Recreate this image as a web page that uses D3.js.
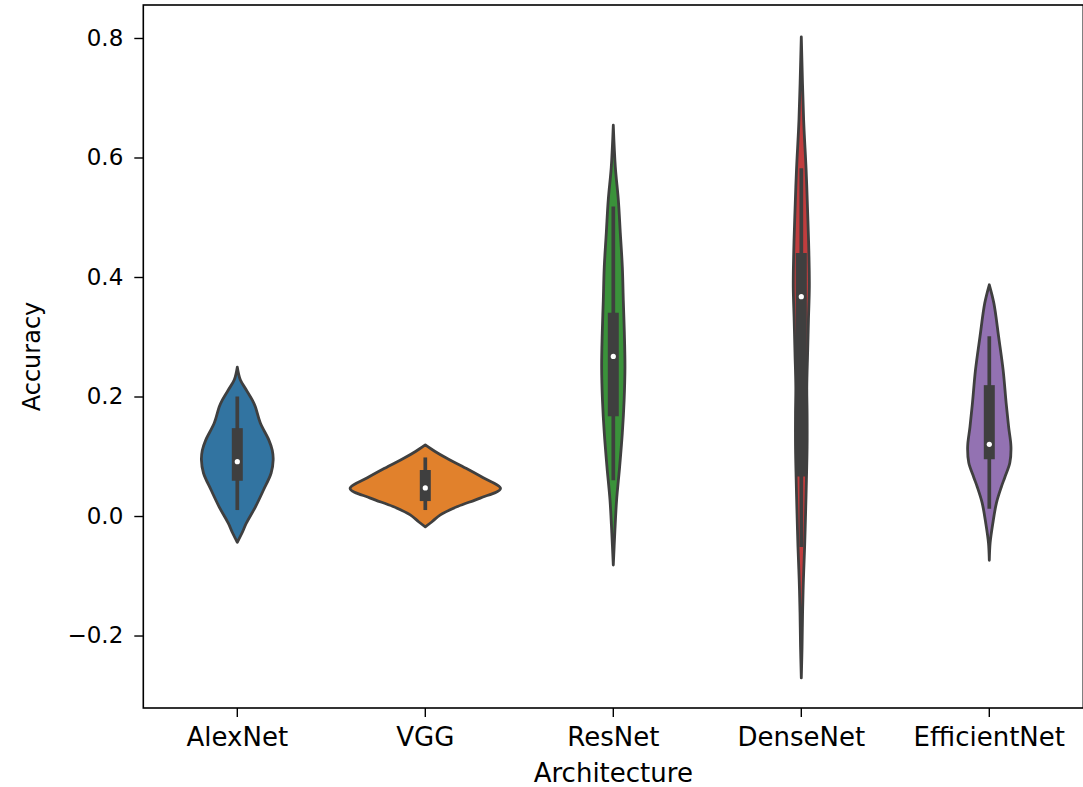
<!DOCTYPE html>
<html>
<head>
<meta charset="utf-8">
<script src="https://cdn.jsdelivr.net/npm/d3@7"></script>
<style>
  html, body { margin: 0; padding: 0; background: #fff; }
  svg { display: block; }
  text { font-family: "DejaVu Sans", sans-serif; fill: #000; }
</style>
</head>
<body>
<svg id="chart" width="1083" height="787"></svg>
<script>
// ---------- data ----------
const categories = ["AlexNet", "VGG", "ResNet", "DenseNet", "EfficientNet"];
const palette = ["#3274a1", "#e1812c", "#3a923a", "#c03d3e", "#9372b2"];
const yTickValues = [-0.2, 0.0, 0.2, 0.4, 0.6, 0.8];

// density profiles: [accuracy, relative density]
const densityAlexNet = [
  [0.249, 0], [0.228, 0.04], [0.211, 0.12], [0.194, 0.20], [0.183, 0.24],
  [0.156, 0.305], [0.127, 0.42], [0.110, 0.465], [0.094, 0.477], [0.072, 0.45],
  [0.044, 0.35], [0.015, 0.24], [-0.012, 0.12], [-0.028, 0.064], [-0.044, 0]
];
const densityVGG = [
  [0.119, 0], [0.108, 0.13], [0.097, 0.28], [0.080, 0.54], [0.064, 0.77],
  [0.046, 1.0], [0.030, 0.73], [0.016, 0.43], [0.002, 0.20], [-0.010, 0.085], [-0.018, 0]
];
const densityResNet = [
  [0.654, 0], [0.584, 0.027], [0.529, 0.067], [0.474, 0.093], [0.417, 0.12],
  [0.361, 0.133], [0.306, 0.147], [0.249, 0.155], [0.194, 0.144], [0.139, 0.12],
  [0.082, 0.084], [0.027, 0.044], [-0.028, 0.02], [-0.082, 0]
];
const densityDenseNet = [
  [0.802, 0], [0.663, 0.031], [0.579, 0.064], [0.495, 0.088], [0.440, 0.101],
  [0.384, 0.107], [0.328, 0.095], [0.273, 0.084], [0.216, 0.073], [0.172, 0.077],
  [0.116, 0.077], [0.060, 0.068], [0.005, 0.057], [-0.052, 0.044], [-0.107, 0.028],
  [-0.162, 0.017], [-0.219, 0.01], [-0.271, 0]
];
const densityEfficientNet = [
  [0.387, 0], [0.356, 0.061], [0.300, 0.124], [0.244, 0.184], [0.189, 0.224],
  [0.149, 0.257], [0.116, 0.288], [0.089, 0.273], [0.065, 0.207], [0.049, 0.161],
  [0.022, 0.095], [-0.012, 0.047], [-0.045, 0.011], [-0.074, 0]
];
const densities = [densityAlexNet, densityVGG, densityResNet, densityDenseNet, densityEfficientNet];

// inner box statistics
const q1Values      = [0.059, 0.025, 0.167, 0.066, 0.095];
const medianValues  = [0.091, 0.047, 0.267, 0.367, 0.120];
const q3Values      = [0.147, 0.077, 0.340, 0.440, 0.219];
const whiskerLow    = [0.010, 0.010, 0.060, -0.052, 0.012];
const whiskerHigh   = [0.200, 0.098, 0.518, 0.582, 0.301];

// ---------- layout ----------
const svg = d3.select("#chart");
const plotLeft = 143.3, plotRight = 1083.3, plotTop = 5, plotBottom = 708;
const gray = "#3f3f3f";

const x = d3.scaleBand().domain(categories).range([plotLeft, plotRight]).padding(0);
const y = d3.scaleLinear().domain([-0.3213, 0.8552]).range([plotBottom, plotTop]);
const w = d3.scaleLinear().domain([0, 1]).range([0, 0.4 * x.bandwidth()]);
const cx = c => x(c) + x.bandwidth() / 2;

// violins
categories.forEach((cat, i) => {
  const c = cx(cat);
  const area = d3.area()
    .y(d => y(d[0]))
    .x0(d => c - w(d[1]))
    .x1(d => c + w(d[1]))
    .curve(d3.curveCatmullRom.alpha(0.5));
  svg.append("path")
    .datum(densities[i])
    .attr("d", area)
    .attr("fill", palette[i])
    .attr("stroke", gray)
    .attr("stroke-width", 2.8)
    .attr("stroke-linejoin", "round");
  // whisker
  svg.append("line")
    .attr("x1", c).attr("x2", c)
    .attr("y1", y(whiskerLow[i])).attr("y2", y(whiskerHigh[i]))
    .attr("stroke", gray).attr("stroke-width", 3.7);
  // box
  svg.append("line")
    .attr("x1", c).attr("x2", c)
    .attr("y1", y(q1Values[i])).attr("y2", y(q3Values[i]))
    .attr("stroke", gray).attr("stroke-width", 11);
  // median
  svg.append("circle")
    .attr("cx", c).attr("cy", y(medianValues[i]))
    .attr("r", 2.6).attr("fill", "#fff");
});

// frame
svg.append("rect")
  .attr("x", plotLeft).attr("y", plotTop)
  .attr("width", plotRight - plotLeft).attr("height", plotBottom - plotTop)
  .attr("fill", "none").attr("stroke", "#000").attr("stroke-width", 1.6);

// y axis
const yAxis = d3.axisLeft(y).tickValues(yTickValues).tickFormat(d3.format(".1f"))
  .tickSize(9).tickPadding(11);
const gy = svg.append("g").attr("transform", `translate(${plotLeft},0)`).call(yAxis);
gy.select(".domain").remove();
gy.selectAll(".tick line").attr("stroke", "#000").attr("stroke-width", 1.4);
gy.selectAll(".tick text").attr("font-size", 23).attr("fill", "#000")
  .style("font-family", "'DejaVu Sans', sans-serif");

// x axis
const xAxis = d3.axisBottom(x).tickSize(9).tickPadding(11);
const gx = svg.append("g").attr("transform", `translate(0,${plotBottom})`).call(xAxis);
gx.select(".domain").remove();
gx.selectAll(".tick line").attr("stroke", "#000").attr("stroke-width", 1.4);
gx.selectAll(".tick text").attr("font-size", 26).attr("fill", "#000")
  .style("font-family", "'DejaVu Sans', sans-serif");

// axis titles
svg.append("text")
  .attr("x", (plotLeft + plotRight) / 2).attr("y", 782)
  .attr("text-anchor", "middle").attr("font-size", 26)
  .text("Architecture");
svg.append("text")
  .attr("transform", `translate(40,${(plotTop + plotBottom) / 2}) rotate(-90)`)
  .attr("text-anchor", "middle").attr("font-size", 24)
  .text("Accuracy");
</script>
</body>
</html>
